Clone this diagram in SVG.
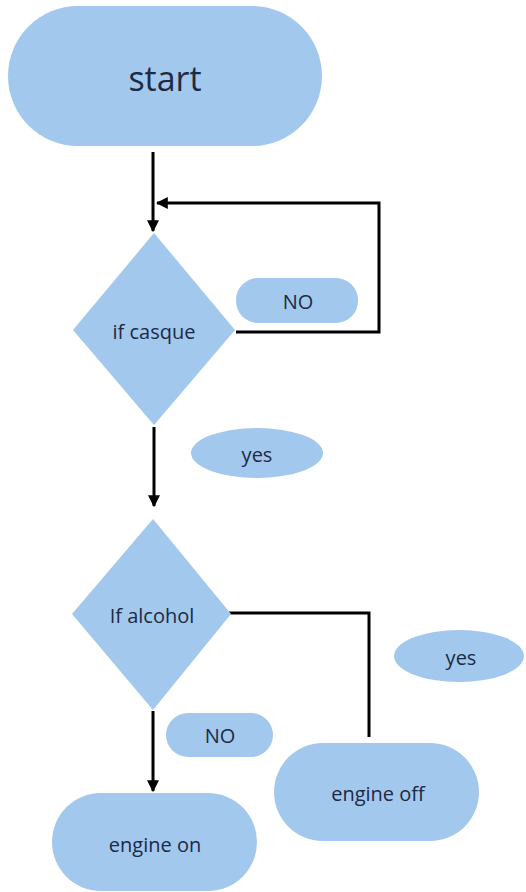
<svg xmlns="http://www.w3.org/2000/svg" width="526" height="892" viewBox="0 0 526 892">
<style>
.s{fill:#a3c8ee;}
.t{font-family:"Open Sans","Noto Sans",sans-serif;fill:#1c2a44;text-anchor:middle;dominant-baseline:central;font-size:20px;}
.c{fill:none;stroke:#000;stroke-width:3;}
</style>
<defs>
<marker id="ah" viewBox="0 0 10 10" refX="9" refY="5" markerWidth="4" markerHeight="4" orient="auto" markerUnits="strokeWidth">
<path d="M0,0 L10,5 L0,10 Z" fill="#000"/>
</marker>
</defs>
<rect width="526" height="892" fill="#fff"/>
<g id="connectors">
<line class="c" x1="153" y1="152" x2="153" y2="231" marker-end="url(#ah)"/>
<polyline class="c" points="236,332 379,332 379,203 157,203" marker-end="url(#ah)"/>
<line class="c" x1="154" y1="427" x2="154" y2="506" marker-end="url(#ah)"/>
<polyline class="c" points="229,613 369,613 369,737"/>
<line class="c" x1="153" y1="711" x2="153" y2="791" marker-end="url(#ah)"/>
</g>
<g id="start">
<rect class="s" x="8" y="6" width="314" height="140" rx="70"/>
<text class="t" x="165" y="78" style="font-size:34px">start</text>
</g>
<g id="if-casque">
<polygon class="s" points="154,233 235,330 154,425 73,330"/>
<text class="t" x="154" y="331">if casque</text>
</g>
<g id="no-label-1">
<rect class="s" x="236" y="278" width="122" height="45" rx="22"/>
<text class="t" x="298" y="301">NO</text>
</g>
<g id="yes-label-1">
<ellipse class="s" cx="257" cy="453" rx="66" ry="25"/>
<text class="t" x="257" y="454">yes</text>
</g>
<g id="if-alcohol">
<polygon class="s" points="153,519 231,614 153,710 72,614"/>
<text class="t" x="152" y="615">If alcohol</text>
</g>
<g id="yes-label-2">
<ellipse class="s" cx="459" cy="656" rx="65" ry="26"/>
<text class="t" x="461" y="657">yes</text>
</g>
<g id="no-label-2">
<rect class="s" x="166" y="713" width="107" height="44" rx="22"/>
<text class="t" x="220" y="735">NO</text>
</g>
<g id="engine-off">
<rect class="s" x="274" y="743" width="205" height="98" rx="49"/>
<text class="t" x="378" y="793">engine off</text>
</g>
<g id="engine-on">
<rect class="s" x="52" y="793" width="205" height="98" rx="49"/>
<text class="t" x="155" y="844">engine on</text>
</g>
</svg>
